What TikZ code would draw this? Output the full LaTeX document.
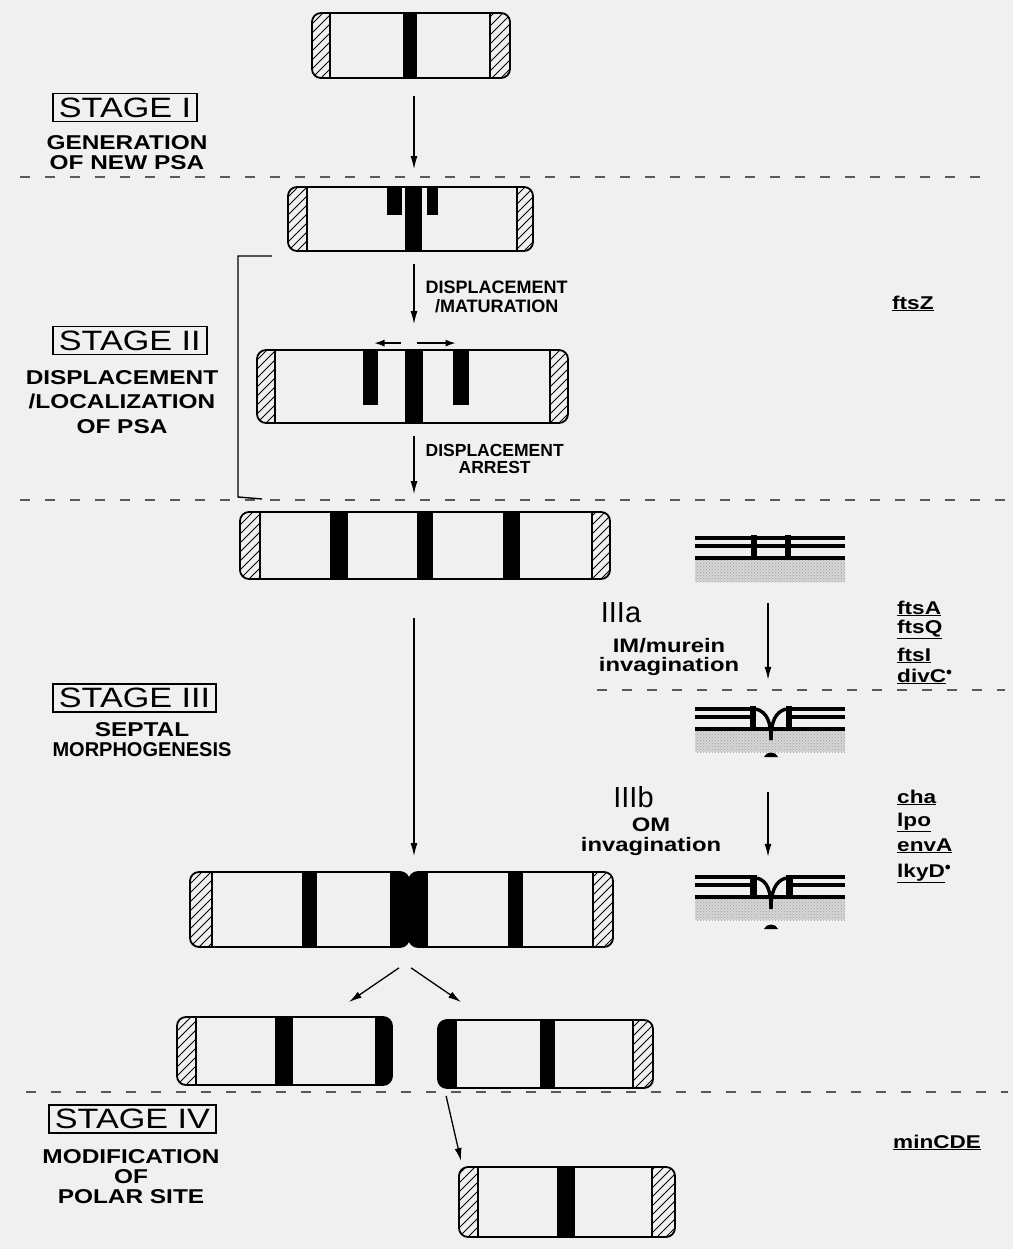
\documentclass[tikz,border=0pt]{standalone}
\usepackage{fontspec}
\setmainfont{Liberation Sans}
\newfontfamily\widesans[FakeStretch=1.22]{Liberation Sans}
\usetikzlibrary{positioning, arrows.meta, calc, patterns}

\definecolor{paper}{RGB}{240,240,240}

% hatched and black poles, drawn inside a cell (path picture)
\newcommand\hatchleft[1]{%
  \begin{scope}[sharp corners]
    \clip (path picture bounding box.north west) rectangle ([shift={(#1,0)}]path picture bounding box.south west);
    \foreach \k in {-90,-81,...,30}
      \draw[line width=1pt] ([shift={(\k,0)}]path picture bounding box.south west) -- ++(90,-90);
  \end{scope}
  \draw[line width=1.2pt] ([shift={(#1,0)}]path picture bounding box.north west) -- ([shift={(#1,0)}]path picture bounding box.south west);}
\newcommand\hatchright[1]{%
  \begin{scope}[sharp corners]
    \clip ([shift={(-#1,0)}]path picture bounding box.north east) rectangle (path picture bounding box.south east);
    \foreach \k in {-117,-108,...,0}
      \draw[line width=1pt] ([shift={(\k,0)}]path picture bounding box.south east) -- ++(90,-90);
  \end{scope}
  \draw[line width=1.2pt] ([shift={(-#1,0)}]path picture bounding box.north east) -- ([shift={(-#1,0)}]path picture bounding box.south east);}
\newcommand\blackleft[1]{\fill[sharp corners] (path picture bounding box.north west) rectangle ([shift={(#1,0)}]path picture bounding box.south west);}
\newcommand\blackright[1]{\fill[sharp corners] ([shift={(-#1,0)}]path picture bounding box.north east) rectangle (path picture bounding box.south east);}

\begin{document}
\begin{tikzpicture}[x=1pt, y=-1pt,
    cellbox/.style={draw, line width=1.8pt, rounded corners=9pt, inner sep=0pt},
    poles/.style 2 args={path picture={\hatchleft{#1}\hatchright{#2}}},
    arr/.style={-{Latex[length=13pt,width=7pt]}, line width=1.3pt},
    dashline/.style={line width=1.6pt, black!65, dash pattern=on 10pt off 15pt},
    stagebox/.style={draw, line width=1.8pt, inner xsep=6pt, inner ysep=4pt, font=\widesans\fontsize{28}{30}\selectfont},
    stagetext/.style={align=center, inner sep=0pt, font=\widesans\bfseries\fontsize{20}{20}\selectfont},
    steplabel/.style={align=center, inner sep=2pt, font=\bfseries\fontsize{18}{19}\selectfont},
    phase/.style={inner sep=0pt, font=\fontsize{29}{30}\selectfont},
    phasetext/.style={align=center, inner sep=0pt, font=\widesans\bfseries\fontsize{19.5}{19}\selectfont},
    gene/.style={anchor=base west, inner sep=0pt, font=\widesans\bfseries\fontsize{18.5}{20}\selectfont},
    mem/.style={line width=3.4pt},
    arm/.style={line width=3.4pt},
    stipple/.style={fill=gray!32, postaction={pattern=crosshatch dots, pattern color=gray!75}}]

    \useasboundingbox (0,0) rectangle (1013,1249);
    \fill[paper] (0,0) rectangle (1013,1249);

    % stage borders
    \draw[dashline] (20,177) -- (990,177);
    \draw[dashline] (20,500) -- (1005,500);
    \draw[dashline] (597,690) -- (1005,690);
    \draw[dashline] (26,1092) -- (1008,1092);
    \draw[line width=1.4pt] (272,256) -- (238,256) -- (238,497) -- (262,499);

    % cells
    \node[cellbox, poles={18}{20}, minimum width=198pt, minimum height=65pt] (cellA) at (411,45.5) {};
    \node[cellbox, poles={19}{16}, minimum width=245pt, minimum height=64pt] (cellB) at (410.5,219) {};
    \node[cellbox, poles={18}{18}, minimum width=311pt, minimum height=73pt] (cellC) at (412.5,386.5) {};
    \node[cellbox, poles={20}{18}, minimum width=370pt, minimum height=67pt] (cellD) at (425,545.5) {};
    \node[cellbox, path picture={\hatchleft{22}\blackright{19}}, minimum width=219pt, minimum height=75pt] (cellEl) at (299.5,909.5) {};
    \node[cellbox, path picture={\blackleft{19}\hatchright{20}}, minimum width=204pt, minimum height=75pt] (cellEr) at (511,909.5) {};
    \node[cellbox, path picture={\hatchleft{19}\blackright{17}}, minimum width=215pt, minimum height=68pt] (daughterL) at (284.5,1051) {};
    \node[cellbox, path picture={\blackleft{19}\hatchright{20}}, minimum width=215pt, minimum height=68pt] (daughterR) at (545.5,1054) {};
    \node[cellbox, poles={19}{23}, minimum width=216pt, minimum height=70pt] (cellF) at (567,1202) {};

    % PSA bands
    \foreach \xa/\xb/\ya/\yb in {403/417/13/78, 405/422/187/251, 387/402/187/215, 427/438/187/215,
        405/423/350/423, 363/378/350/405, 453/469/350/405, 330/348/512/579, 417/433/512/579,
        503/520/512/579, 302/317/872/947, 508/523/872/947, 275/293/1017/1085, 540/555/1020/1088,
        557/575/1167/1237}
      \fill (\xa,\ya) rectangle (\xb,\yb);

    % main arrows
    \coordinate (axis) at (414,0);
    \draw[arr, shorten <=17pt, shorten >=17pt] (cellA.south -| axis) -- (cellB.north -| axis);
    \draw[arr, shorten <=12pt, shorten >=25pt] (cellB.south -| axis) -- (cellC.north -| axis)
        node[steplabel, pos=0.46, right=9pt] {DISPLACEMENT\\/MATURATION};
    \draw[arr, shorten <=12pt, shorten >=17pt] (cellC.south -| axis) -- (cellD.north -| axis)
        node[steplabel, pos=0.40, right=9pt, font=\bfseries\fontsize{17.5}{17}\selectfont] {DISPLACEMENT\\ARREST};
    \draw[arr, shorten <=38pt, shorten >=15pt] (cellD.south -| axis) -- (cellEl.north -| axis);
    \draw[arr, -{Latex[length=10pt,width=7pt]}] ([shift={(-12,-6)}]cellC.north) -- ([shift={(-38,-6)}]cellC.north);
    \draw[arr, -{Latex[length=10pt,width=7pt]}] ([shift={(4,-6)}]cellC.north) -- ([shift={(43,-6)}]cellC.north);
    \draw[arr] ([shift={(-11,20)}]cellEl.south east) -- ([shift={(-44,-14)}]daughterL.north east);
    \draw[arr] ([shift={(3,20)}]cellEr.south west) -- ([shift={(24,-17)}]daughterR.north west);
    \draw[arr] ([shift={(9,7)}]daughterR.south west) -- ([shift={(3,-5)}]cellF.north west);

    % septum close-ups
    \node[inner sep=0pt, minimum width=150pt, minimum height=47pt] (wallA) at (770,558.5) {};
    \node[inner sep=0pt, minimum width=150pt, minimum height=51pt] (wallB) at (770,731.5) {};
    \node[inner sep=0pt, minimum width=150pt, minimum height=55pt] (wallC) at (770,902.5) {};

    \fill[stipple] (695,560) rectangle (845,582);
    \draw[mem] (695,538) -- (845,538);
    \draw[mem] (695,546) -- (845,546);
    \draw[mem] (695,558) -- (845,558);
    \fill (751,535) rectangle (757,560);
    \fill (785,535) rectangle (791,560);

    \fill[stipple] (695,730) rectangle (845,752);
    \draw[mem] (695,709) -- (753,709) (789,709) -- (845,709);
    \draw[mem] (695,717) -- (753,717) (789,717) -- (845,717);
    \draw[mem] (695,729) -- (845,729);
    \fill (750,706) rectangle (756,730);
    \fill (786,706) rectangle (792,730);
    \draw[arm] (756,709) .. controls (767,712) and (771,722) .. (771,740);
    \draw[arm] (786,709) .. controls (775,712) and (771,722) .. (771,740);
    \fill (764,757) .. controls (766,751) and (776,751) .. (778,757) -- cycle;

    \fill[stipple] (695,898) rectangle (845,920);
    \draw[mem] (695,877) -- (753,877) (789,877) -- (845,877);
    \draw[mem] (695,885) -- (753,885) (789,885) -- (845,885);
    \draw[mem] (695,897) -- (845,897);
    \fill (750,875) rectangle (757,898);
    \fill (786,875) rectangle (793,898);
    \draw[arm] (757,878) .. controls (768,881) and (771,892) .. (771,909);
    \draw[arm] (786,878) .. controls (775,881) and (771,892) .. (771,909);
    \fill (764,929) .. controls (766,923) and (776,923) .. (778,929) -- cycle;

    \coordinate (axisR) at (768,0);
    \draw[arr, shorten <=21pt, shorten >=26pt] (wallA.south -| axisR) -- (wallB.north -| axisR);
    \draw[arr, shorten <=35pt, shorten >=18pt] (wallB.south -| axisR) -- (wallC.north -| axisR);

    \node[phase] (phaseA) at (621,613) {IIIa};
    \node[phasetext] (phaseAtext) at (669,656.5) {IM/murein\\invagination};
    \node[phase] (phaseB) at (633.5,797) {IIIb};
    \node[phasetext, font=\widesans\bfseries\fontsize{19.5}{20}\selectfont] (phaseBtext) at (651,837) {OM\\invagination};

    % stage names
    \node[stagebox, anchor=west] (stageI) at (52,107.5) {STAGE I};
    \node[stagetext] (stageItext) at (127,153) {GENERATION\\OF NEW PSA};
    \node[stagebox, anchor=west] (stageII) at (52,340.5) {STAGE II};
    \node[stagetext] (stageIItext) at (122,402) {DISPLACEMENT\\[4.5pt]/LOCALIZATION\\[4.5pt]OF PSA};
    \node[stagebox, anchor=west] (stageIII) at (52,698) {STAGE III};
    \node[stagetext] (stageIIItext) at (142,740) {SEPTAL\\{\rmfamily MORPHOGENESIS}};
    \node[stagebox, anchor=west] (stageIV) at (48,1119) {STAGE IV};
    \node[stagetext] (stageIVtext) at (131,1177) {MODIFICATION\\OF\\POLAR SITE};

    % genes
    \node[gene] (ftsZ) at (892,309) {\underline{ftsZ}};
    \node[gene] (ftsA) at (897,614) {\underline{ftsA}};
    \node[gene] (ftsQ) at (897,633) {\underline{ftsQ}};
    \node[gene] (ftsI) at (897,661) {\underline{ftsI}};
    \node[gene] (divC) at (897,682) {\underline{divC}$^{\bullet}$};
    \node[gene] (cha) at (897,803) {\underline{cha}};
    \node[gene] (lpo) at (897,826) {\underline{lpo}};
    \node[gene] (envA) at (897,851) {\underline{envA}};
    \node[gene] (lkyD) at (897,877) {\underline{lkyD}$^{\bullet}$};
    \node[gene] (minCDE) at (893,1148) {\underline{minCDE}};
\end{tikzpicture}
\end{document}
